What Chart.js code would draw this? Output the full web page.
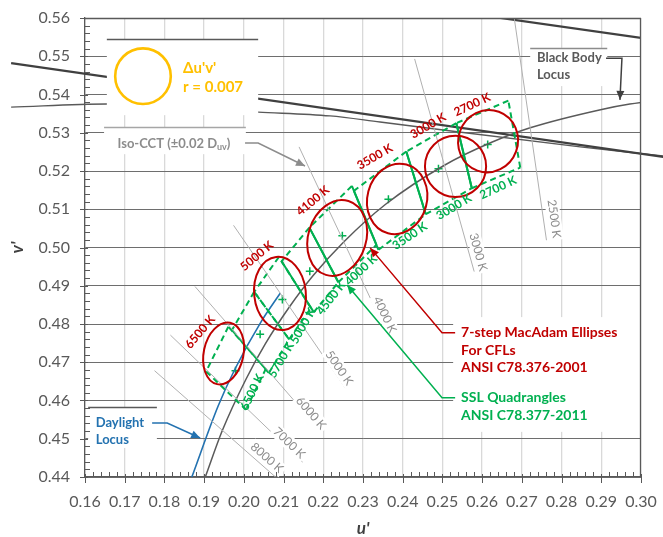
<!DOCTYPE html>
<html>
<head>
<meta charset="utf-8">
<script src="https://cdn.jsdelivr.net/npm/chart.js@4.4.1/dist/chart.umd.min.js"></script>
<style>
  html, body { margin: 0; padding: 0; background: #ffffff; }
  canvas { display: block; }
</style>
</head>
<body>
<canvas id="chart" width="663" height="537"></canvas>
<script>
// ---------- axis ticks ----------
const uTicks = [0.16, 0.17, 0.18, 0.19, 0.20, 0.21, 0.22, 0.23, 0.24, 0.25, 0.26, 0.27, 0.28, 0.29, 0.30];
const vTicks = [0.44, 0.45, 0.46, 0.47, 0.48, 0.49, 0.50, 0.51, 0.52, 0.53, 0.54, 0.55, 0.56];

// ---------- loci (u', v') ----------
const blackBodyLocus = [
  [0.1903, 0.4400], [0.1946, 0.4522], [0.2005, 0.4655], [0.2054, 0.4748], [0.2115, 0.4845],
  [0.2174, 0.4926], [0.2252, 0.5015], [0.2357, 0.5113], [0.2505, 0.5215], [0.2624, 0.5275],
  [0.2721, 0.5313], [0.2901, 0.5361], [0.2972, 0.5375], [0.3050, 0.5386]
];
const daylightLocus = [
  [0.1869, 0.4400], [0.1935, 0.4585], [0.1978, 0.4683], [0.2044, 0.4807], [0.2092, 0.4881]
];

// upper reference lines crossing the top of the diagram
const upperLineA = [[0.1414, 0.5482], [0.3056, 0.5237]];
const upperLineB = [[0.1414, 0.5367], [0.1655, 0.5375], [0.2036, 0.5354], [0.2217, 0.5344],
                    [0.2343, 0.5328], [0.2847, 0.5263], [0.3056, 0.5239]];
const upperLineC = [[0.2600, 0.5607], [0.3000, 0.5548]];

// ---------- iso-CCT lines (±0.02 Duv) ----------
const isoCCT = ['2500 K', '3000 K', '4000 K', '5000 K', '6000 K', '7000 K', '8000 K'];
const isoLines = [
  [[0.2680, 0.5606], [0.2762, 0.5019]],
  [[0.2430, 0.5493], [0.2580, 0.4937]],
  [[0.2139, 0.5263], [0.2364, 0.4767]],
  [[0.1974, 0.5058], [0.2256, 0.4632]],
  [[0.1877, 0.4898], [0.2190, 0.4524]],
  [[0.1815, 0.4771], [0.2148, 0.4439]],
  [[0.1775, 0.4678], [0.2117, 0.4366]]
];
const isoLabelAt = [
  [0.2781, 0.5075], [0.2590, 0.4988], [0.2355, 0.4824], [0.2240, 0.4685],
  [0.2169, 0.4567], [0.2114, 0.4489], [0.2058, 0.4450]
];

// ---------- ANSI C78.377 quadrangles ----------
const quadCCT = ['2700 K', '3000 K', '3500 K', '4000 K', '4500 K', '5000 K', '5700 K', '6500 K'];
// corners: upper warm, upper cool, lower cool, lower warm
const quadCorners = [
  [[0.2666, 0.5384], [0.2535, 0.5325], [0.2574, 0.5155], [0.2696, 0.5209]],
  [[0.2535, 0.5325], [0.2409, 0.5251], [0.2458, 0.5087], [0.2574, 0.5155]],
  [[0.2409, 0.5251], [0.2277, 0.5148], [0.2339, 0.4994], [0.2458, 0.5087]],
  [[0.2272, 0.5161], [0.2165, 0.5052], [0.2238, 0.4909], [0.2334, 0.5007]],
  [[0.2165, 0.5052], [0.2095, 0.4964], [0.2176, 0.4831], [0.2238, 0.4909]],
  [[0.2088, 0.4975], [0.2026, 0.4884], [0.2114, 0.4760], [0.2169, 0.4842]],
  [[0.2026, 0.4884], [0.1970, 0.4784], [0.2063, 0.4672], [0.2114, 0.4760]],
  [[0.1961, 0.4793], [0.1905, 0.4676], [0.2005, 0.4576], [0.2055, 0.4682]]
];
const quadCenters = [
  [0.2614, 0.5269], [0.2490, 0.5206], [0.2364, 0.5126], [0.2248, 0.5031],
  [0.2166, 0.4938], [0.2097, 0.4864], [0.2041, 0.4773], [0.1979, 0.4678]
];
const quadLabelAt = [
  [0.2640, 0.5156], [0.2529, 0.5106], [0.2418, 0.5030], [0.2295, 0.4941],
  [0.2220, 0.4868], [0.2149, 0.4795], [0.2094, 0.4706], [0.2021, 0.4622]
];
const quadLabelAngle = [-25, -31, -34, -43, -52, -60, -60, -64];

// ---------- 7-step MacAdam ellipses (CFL, ANSI C78.376) ----------
const ellipseCCT = ['2700 K', '3000 K', '3500 K', '4100 K', '5000 K', '6500 K'];
const ellipseCenter = [[0.2615, 0.5278], [0.2533, 0.5212], [0.2386, 0.5127], [0.2235, 0.5025], [0.2091, 0.4880], [0.1949, 0.4723]];
const ellipseSemiU = [0.0075, 0.0077, 0.0075, 0.0073, 0.0065, 0.0050];
const ellipseSemiV = [0.0082, 0.0080, 0.0093, 0.0101, 0.0096, 0.0082];
const ellipseTilt = [20, 0, 15, 17, -6, 12];
const ellipseLabelAt = [[0.2575, 0.5373], [0.2464, 0.5318], [0.2330, 0.5237], [0.2174, 0.5122], [0.2033, 0.4978], [0.1890, 0.4779]];
const ellipseLabelAngle = [-25, -30, -30, -40, -40, -50];

// legend circle: radius in u'v'
const legendRadius = 0.007;

const FONT = 'Lato, "Open Sans", "Liberation Sans", sans-serif';
const RED = '#c00000', GREEN = '#00b050', ORANGE = '#ffc000', BLUE = '#2372b0';

const xy = pts => pts.map(p => ({ x: p[0], y: p[1] }));
const datasets = [];

function lineSet(pts, color, width, extra) {
  return Object.assign({ data: xy(pts), showLine: true, borderColor: color, borderWidth: width,
    pointRadius: 0, fill: false, order: 0 }, extra || {});
}

// background reference lines (drawn under the text boxes)
datasets.push(lineSet(upperLineA, '#404040', 2.2, { clip: false, order: 10 }));
datasets.push(lineSet(upperLineB, '#595959', 1.4, { clip: false, order: 10, cubicInterpolationMode: 'monotone' }));
datasets.push(lineSet(upperLineC, '#404040', 2.2, { order: 10 }));

// iso-CCT lines
isoLines.forEach(l => datasets.push(lineSet(l, '#b0b0b0', 1)));

// quadrangles
quadCorners.forEach((q, i) => {
  const dash = { borderDash: [6, 4] };
  datasets.push(lineSet([q[0], q[1]], GREEN, 2, dash));
  datasets.push(lineSet([q[2], q[3]], GREEN, 2, dash));
  const solidEnds = i <= 4;
  datasets.push(lineSet([q[1], q[2]], GREEN, 2, (solidEnds && i < 7) ? {} : dash));
  datasets.push(lineSet([q[3], q[0]], GREEN, 2, (solidEnds && i > 0) ? {} : dash));
});

// loci
datasets.push(lineSet(blackBodyLocus, '#5a5a5a', 1.5, { cubicInterpolationMode: 'monotone' }));
datasets.push(lineSet(daylightLocus, BLUE, 1.6, { cubicInterpolationMode: 'monotone' }));

// quadrangle centres
datasets.push({ data: xy(quadCenters), showLine: false, pointStyle: 'cross', pointRadius: 4,
  borderColor: GREEN, borderWidth: 1.5, order: 0 });

// ---------- drawing helpers ----------
function P(chart, u, v) {
  return [chart.scales.x.getPixelForValue(u), chart.scales.y.getPixelForValue(v)];
}
function arrowPath(ctx, pts, color, width) {
  ctx.save();
  ctx.strokeStyle = color; ctx.fillStyle = color; ctx.lineWidth = width;
  ctx.beginPath();
  pts.forEach((p, i) => i ? ctx.lineTo(p[0], p[1]) : ctx.moveTo(p[0], p[1]));
  ctx.stroke();
  const a = pts[pts.length - 2], b = pts[pts.length - 1];
  const ang = Math.atan2(b[1] - a[1], b[0] - a[0]);
  ctx.translate(b[0], b[1]); ctx.rotate(ang);
  ctx.beginPath(); ctx.moveTo(0, 0); ctx.lineTo(-9, -4); ctx.lineTo(-9, 4); ctx.closePath(); ctx.fill();
  ctx.restore();
}
function rotLabel(ctx, str, X, Y, ang, font, color, bg) {
  ctx.save();
  ctx.translate(X, Y); ctx.rotate(ang); ctx.font = font;
  if (bg) {
    const w = ctx.measureText(str).width;
    ctx.fillStyle = '#ffffff'; ctx.fillRect(-w / 2 - 2, -7, w + 4, 14);
  }
  ctx.fillStyle = color; ctx.textAlign = 'center'; ctx.textBaseline = 'middle';
  ctx.fillText(str, 0, 0);
  ctx.restore();
}
function text(ctx, str, X, Y, font, color, align) {
  ctx.save(); ctx.font = font; ctx.fillStyle = color;
  ctx.textAlign = align || 'left'; ctx.textBaseline = 'middle';
  ctx.fillText(str, X, Y); ctx.restore();
}

// white annotation panels (u0, v0 top-left; u1, v1 bottom-right) with optional top rule
const panels = [
  { u0: 0.1655, v0: 0.5545, u1: 0.2036, v1: 0.5346, rule: '#595959' },
  { u0: 0.1648, v0: 0.5315, u1: 0.2005, v1: 0.5244, rule: '#a6a6a6' },
  { u0: 0.2721, v0: 0.5522, u1: 0.2915, v1: 0.5422, rule: '#8c8c8c' },
  { u0: 0.1608, v0: 0.4583, u1: 0.1781, v1: 0.4476, rule: '#595959' },
  { u0: 0.2527, v0: 0.4818, u1: 0.2999, v1: 0.4518, rule: null }
];

function drawPanels(chart) {
  const ctx = chart.ctx;
  ctx.save();
  panels.forEach(b => {
    const [x0, y0] = P(chart, b.u0, b.v0), [x1, y1] = P(chart, b.u1, b.v1);
    ctx.fillStyle = '#ffffff';
    ctx.fillRect(x0, y0, x1 - x0, y1 - y0);
    if (b.rule) {
      ctx.strokeStyle = b.rule; ctx.lineWidth = 1.3;
      ctx.beginPath(); ctx.moveTo(x0, Math.round(y0) + 0.5); ctx.lineTo(x1, Math.round(y0) + 0.5); ctx.stroke();
    }
  });
  ctx.restore();
}

function drawOverlay(chart) {
  const ctx = chart.ctx, a = chart.chartArea;
  const xs = chart.scales.x, ys = chart.scales.y;

  // MacAdam ellipses
  ctx.save();
  ctx.strokeStyle = RED; ctx.lineWidth = 2;
  ellipseCenter.forEach((c, i) => {
    const [cx, cy] = P(chart, c[0], c[1]);
    const rx = Math.abs(xs.getPixelForValue(c[0] + ellipseSemiU[i]) - cx);
    const ry = Math.abs(ys.getPixelForValue(c[1] + ellipseSemiV[i]) - cy);
    ctx.beginPath();
    ctx.ellipse(cx, cy, rx, ry, ellipseTilt[i] * Math.PI / 180, 0, Math.PI * 2);
    ctx.stroke();
  });
  ctx.restore();

  // iso-CCT labels
  isoCCT.forEach((t, i) => {
    const p1 = P(chart, isoLines[i][0][0], isoLines[i][0][1]);
    const p2 = P(chart, isoLines[i][1][0], isoLines[i][1][1]);
    const ang = Math.atan2(p2[1] - p1[1], p2[0] - p1[0]);
    const [X, Y] = P(chart, isoLabelAt[i][0], isoLabelAt[i][1]);
    rotLabel(ctx, t, X, Y, ang, '12px ' + FONT, '#8c8c8c', true);
  });

  // ellipse and quadrangle labels
  ellipseCCT.forEach((t, i) => {
    const [X, Y] = P(chart, ellipseLabelAt[i][0], ellipseLabelAt[i][1]);
    rotLabel(ctx, t, X, Y, ellipseLabelAngle[i] * Math.PI / 180, 'bold 12px ' + FONT, RED, false);
  });
  quadCCT.forEach((t, i) => {
    const [X, Y] = P(chart, quadLabelAt[i][0], quadLabelAt[i][1]);
    rotLabel(ctx, t, X, Y, quadLabelAngle[i] * Math.PI / 180, 'bold 12px ' + FONT, GREEN, false);
  });

  // legend circle and its caption
  const [lx, ly] = P(chart, 0.1746, 0.5448);
  const lr = xs.getPixelForValue(0.1746 + legendRadius) - lx;
  ctx.save();
  ctx.strokeStyle = ORANGE; ctx.lineWidth = 2.6;
  ctx.beginPath(); ctx.arc(lx, ly, lr, 0, Math.PI * 2); ctx.stroke();
  ctx.restore();
  let q = P(chart, 0.1847, 0.5469); text(ctx, "\u0394u'v'", q[0], q[1], 'bold 15px ' + FONT, ORANGE);
  q = P(chart, 0.1847, 0.5420); text(ctx, 'r = 0.007', q[0], q[1], 'bold 15px ' + FONT, ORANGE);

  // Iso-CCT caption with subscript
  q = P(chart, 0.1824, 0.5272);
  ctx.save();
  const f1 = 'bold 13px ' + FONT, f2 = 'bold 9px ' + FONT;
  ctx.font = f1; const w1 = ctx.measureText('Iso-CCT (\u00b10.02 D').width, w3 = ctx.measureText(')').width;
  ctx.font = f2; const w2 = ctx.measureText('uv').width;
  let sx = q[0] - (w1 + w2 + w3) / 2;
  ctx.restore();
  text(ctx, 'Iso-CCT (\u00b10.02 D', sx, q[1], f1, '#8c8c8c');
  text(ctx, 'uv', sx + w1, q[1] + 4, f2, '#8c8c8c');
  text(ctx, ')', sx + w1 + w2, q[1], f1, '#8c8c8c');

  // Black body / daylight captions
  q = P(chart, 0.2738, 0.5495); text(ctx, 'Black Body', q[0], q[1], 'bold 13px ' + FONT, '#595959');
  q = P(chart, 0.2738, 0.5451); text(ctx, 'Locus', q[0], q[1], 'bold 13px ' + FONT, '#595959');
  q = P(chart, 0.1627, 0.4541); text(ctx, 'Daylight', q[0], q[1], 'bold 13px ' + FONT, BLUE);
  q = P(chart, 0.1627, 0.4497); text(ctx, 'Locus', q[0], q[1], 'bold 13px ' + FONT, BLUE);

  // standard captions
  const capU = 0.2547;
  [['7-step MacAdam Ellipses', 0.4777], ['For CFLs', 0.4730], ['ANSI C78.376-2001', 0.4686]].forEach(r => {
    const p = P(chart, capU, r[1]); text(ctx, r[0], p[0], p[1], 'bold 14px ' + FONT, RED);
  });
  [['SSL Quadrangles', 0.4607], ['ANSI C78.377-2011', 0.4560]].forEach(r => {
    const p = P(chart, capU, r[1]); text(ctx, r[0], p[0], p[1], 'bold 14px ' + FONT, GREEN);
  });

  // leader arrows
  const pts = arr => arr.map(p => P(chart, p[0], p[1]));
  arrowPath(ctx, pts([[0.2003, 0.5273], [0.2036, 0.5273], [0.2154, 0.5213]]), '#8c8c8c', 1.5);
  arrowPath(ctx, pts([[0.2912, 0.5495], [0.2952, 0.5495], [0.2947, 0.5386]]), '#404040', 1.5);
  arrowPath(ctx, pts([[0.1769, 0.4541], [0.1807, 0.4541], [0.1890, 0.4502]]), BLUE, 1.5);
  arrowPath(ctx, pts([[0.2532, 0.4777], [0.2499, 0.4777], [0.2318, 0.4999]]), RED, 1.5);
  arrowPath(ctx, pts([[0.2532, 0.4607], [0.2499, 0.4607], [0.2260, 0.4902]]), GREEN, 1.5);

  // frame (top and right)
  ctx.save();
  ctx.strokeStyle = '#595959'; ctx.lineWidth = 1.3;
  ctx.beginPath();
  ctx.moveTo(a.left, a.top + 0.5); ctx.lineTo(a.right, a.top + 0.5);
  ctx.moveTo(a.right - 0.5, a.top); ctx.lineTo(a.right - 0.5, a.bottom);
  ctx.stroke();
  ctx.restore();

  // major and minor tick marks
  ctx.save();
  ctx.strokeStyle = '#595959'; ctx.lineWidth = 1;
  ctx.beginPath();
  uTicks.forEach((v, i) => {
    const X = Math.round(xs.getPixelForValue(v)) + 0.5;
    ctx.moveTo(X, a.bottom - 3); ctx.lineTo(X, a.bottom + 6);
    if (i < uTicks.length - 1) {
      for (let k = 1; k < 5; k++) {
        const m = Math.round(xs.getPixelForValue(v + k * (uTicks[i + 1] - v) / 5)) + 0.5;
        ctx.moveTo(m, a.bottom); ctx.lineTo(m, a.bottom - 5);
      }
    }
  });
  vTicks.forEach((v, i) => {
    const Y = Math.round(ys.getPixelForValue(v)) + 0.5;
    ctx.moveTo(a.left - 5, Y); ctx.lineTo(a.left + 3, Y);
    if (i < vTicks.length - 1) {
      for (let k = 1; k < 5; k++) {
        const m = Math.round(ys.getPixelForValue(v + k * (vTicks[i + 1] - v) / 5)) + 0.5;
        ctx.moveTo(a.left, m); ctx.lineTo(a.left + 5, m);
      }
    }
  });
  ctx.stroke();
  ctx.restore();
}

const overlay = {
  id: 'overlay',
  beforeDatasetsDraw() { this._panelsDone = false; },
  beforeDatasetDraw(chart, args) {
    if (!this._panelsDone && (args.meta.order || 0) < 5) { drawPanels(chart); this._panelsDone = true; }
  },
  afterDatasetsDraw(chart) {
    if (!this._panelsDone) { drawPanels(chart); this._panelsDone = true; }
    drawOverlay(chart);
  }
};

new Chart(document.getElementById('chart'), {
  type: 'scatter',
  data: { datasets },
  options: {
    responsive: false,
    animation: false,
    devicePixelRatio: 1,
    layout: { autoPadding: false, padding: { left: 0, top: 18, right: 22, bottom: 0 } },
    plugins: { legend: { display: false }, tooltip: { enabled: false } },
    scales: {
      x: {
        type: 'linear', min: 0.16, max: 0.30,
        afterBuildTicks: s => { s.ticks = uTicks.map(v => ({ value: v })); },
        afterFit: s => { s.height = 60; s.paddingLeft = 0; s.paddingRight = 0; },
        ticks: { callback: v => Number(v).toFixed(2), font: { family: FONT, size: 16 }, color: '#595959',
                 padding: 15, maxRotation: 0, autoSkip: false },
        grid: { color: '#d9d9d9', lineWidth: 1.3, drawTicks: false },
        border: { color: '#595959', width: 1.3 },
        title: { display: true, text: "u'", color: '#404040', padding: { top: 0, bottom: 0 },
                 font: { family: FONT, size: 17, weight: 'bold', style: 'italic', lineHeight: 1 } }
      },
      y: {
        type: 'linear', min: 0.44, max: 0.56,
        afterBuildTicks: s => { s.ticks = vTicks.map(v => ({ value: v })); },
        afterFit: s => { s.width = 85; s.paddingTop = 0; s.paddingBottom = 0; },
        ticks: { callback: v => Number(v).toFixed(2), font: { family: FONT, size: 16 }, color: '#595959',
                 padding: 15, autoSkip: false },
        grid: { color: '#6e6e6e', lineWidth: 1, drawTicks: false },
        border: { color: '#595959', width: 1.3 },
        title: { display: true, text: "v'", color: '#404040', padding: { top: 7, bottom: 0 },
                 font: { family: FONT, size: 17, weight: 'bold', style: 'italic' } }
      }
    }
  },
  plugins: [overlay]
});
</script>
</body>
</html>
